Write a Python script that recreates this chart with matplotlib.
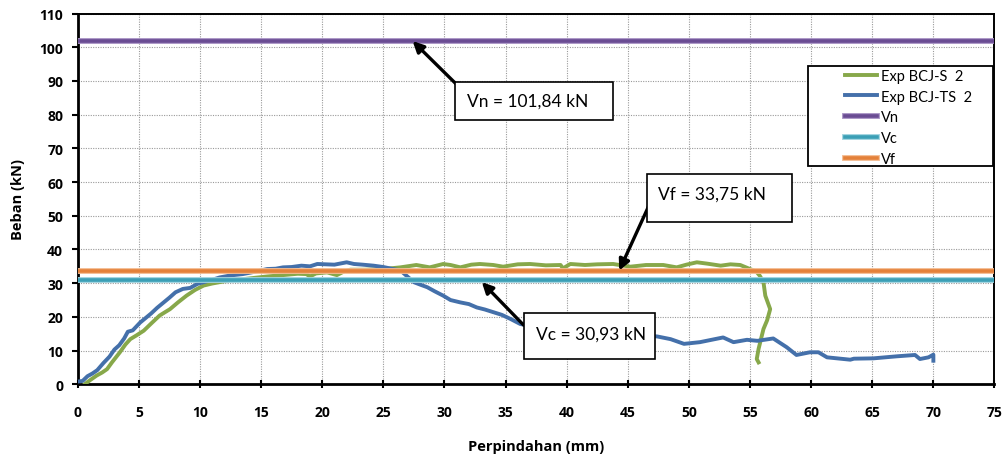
import matplotlib
matplotlib.use("Agg")
import matplotlib.pyplot as plt
import matplotlib.patheffects as pe
from matplotlib.patches import Rectangle

plt.rcParams['font.family'] = ['Lato', 'DejaVu Sans']
BOLD = ['Open Sans', 'DejaVu Sans']

# ---- data ----
x_ticks = [0, 5, 10, 15, 20, 25, 30, 35, 40, 45, 50, 55, 60, 65, 70, 75]
y_ticks = [0, 10, 20, 30, 40, 50, 60, 70, 80, 90, 100, 110]

bcjs_x = [0.6, 1.0, 1.55, 2.0, 2.4, 2.8, 3.45, 3.9, 4.3, 4.8, 5.4, 6.0, 6.7, 7.1, 7.55, 8.2, 8.9,
          9.6, 10.3, 11.0, 11.6, 12.5, 13.55, 14.5, 15.5, 16.8, 18.0, 18.7, 19.0, 19.5, 20.4, 21.2,
          21.8, 22.3, 23.5, 25.0, 26.4, 27.7, 28.8, 29.9, 30.5, 31.3, 32.2, 32.9, 34.0, 34.8, 36.0,
          37.0, 38.3, 39.5, 39.7, 40.3, 41.5, 42.5, 43.8, 45.2, 46.5, 47.9, 49.0, 49.8, 50.65, 51.5,
          52.6, 53.4, 54.2, 55.0, 55.5, 55.8, 56.1, 56.25, 56.65, 56.4, 56.1, 55.7, 55.55, 55.7]
bcjs_y = [0.1, 1.2, 2.6, 3.5, 4.5, 6.5, 9.5, 11.8, 13.4, 14.5, 15.9, 18.0, 20.4, 21.3, 22.3, 24.3, 26.3,
          28.0, 29.3, 29.9, 30.3, 30.9, 31.2, 31.6, 32.0, 32.4, 32.8, 32.7, 32.0, 32.9, 33.2, 32.4,
          33.5, 34.0, 34.0, 34.2, 34.7, 35.4, 34.7, 35.7, 35.4, 34.7, 35.5, 35.7, 35.4, 34.9, 35.6,
          35.7, 35.3, 35.4, 34.4, 35.7, 35.4, 35.6, 35.7, 34.9, 35.4, 35.4, 34.7, 35.5, 36.2, 35.8,
          35.2, 35.6, 35.4, 34.2, 33.5, 32.2, 30.3, 26.3, 22.3, 19.0, 16.4, 10.5, 7.5, 6.5]

bcjts_x = [0.0, 0.4, 0.8, 1.2, 1.6, 2.1, 2.6, 3.0, 3.4, 3.8, 4.1, 4.5, 5.1, 5.6, 6.0, 6.5, 7.0, 7.5,
           8.0, 8.6, 9.2, 9.8, 10.3, 11.0, 11.6, 12.5, 13.5, 14.5, 15.5, 16.2, 16.8, 17.5, 18.3,
           19.0, 19.6, 20.3, 21.0, 22.0, 22.6, 23.3, 24.2, 25.0, 25.8, 26.4, 26.9, 27.5, 28.0, 28.6,
           29.2, 29.9, 30.5, 31.3, 32.0, 32.65, 33.3, 34.0, 34.7, 35.4, 36.2, 37.5, 40.0, 43.0, 46.0,
           47.4, 48.5, 49.6, 50.9, 52.8, 53.65, 54.75, 55.6, 56.9, 58.0, 58.8, 59.9, 60.6, 61.3,
           63.2, 63.5, 65.1, 67.0, 68.5, 68.9, 69.6, 70.0, 70.0]
bcjts_y = [0.8, 1.0, 2.4, 3.2, 4.2, 6.3, 8.2, 10.3, 11.6, 13.6, 15.6, 16.0, 18.3, 19.8, 21.0, 22.7, 24.2,
           25.7, 27.3, 28.3, 28.6, 29.8, 30.3, 31.0, 31.7, 32.3, 32.7, 33.4, 34.2, 34.3, 34.7, 34.8,
           35.2, 35.0, 35.7, 35.6, 35.5, 36.2, 35.7, 35.5, 35.2, 34.8, 34.2, 33.8, 32.2, 30.3, 29.6,
           28.8, 27.6, 26.3, 25.0, 24.3, 23.8, 22.8, 22.2, 21.4, 20.6, 19.4, 17.9, 17.0, 15.8, 15.0,
           14.5, 14.2, 13.4, 12.0, 12.5, 13.9, 12.5, 13.2, 12.9, 13.6, 11.0, 8.7, 9.5, 9.5, 8.0,
           7.3, 7.6, 7.7, 8.3, 8.7, 7.5, 8.0, 8.8, 7.0]

Vn = 101.84
Vc = 30.93
Vf = 33.75

labels = ['Exp BCJ-S  2', 'Exp BCJ-TS  2', 'Vn', 'Vc', 'Vf']
ann_texts = ['Vn = 101,84 kN', 'Vf = 33,75 kN', 'Vc = 30,93 kN']

# ---- styles ----
c_green = '#87a84a'
c_blue = '#4470aa'
c_purple = '#6a4c93'
c_teal = '#3b9fb6'
c_orange = '#e4813a'

fig = plt.figure(figsize=(10.08, 4.6), dpi=100)
ax = fig.add_axes([0.0771, 0.1624, 0.9095, 0.8059])

def glow(c_light):
    return [pe.Stroke(linewidth=4.2, foreground=c_light), pe.Normal()]

l1, = ax.plot(bcjs_x, bcjs_y, color=c_green, lw=2.8, zorder=3, solid_joinstyle='round')
l2, = ax.plot(bcjts_x, bcjts_y, color=c_blue, lw=2.8, zorder=3, solid_joinstyle='round')
l3 = ax.axhline(Vn, color=c_purple, lw=2.6, zorder=4, path_effects=glow('#a792c4'))
l4 = ax.axhline(Vc, color=c_teal, lw=2.6, zorder=4, path_effects=glow('#9fd3df'))
l5 = ax.axhline(Vf, color=c_orange, lw=2.6, zorder=4, path_effects=glow('#f4bb90'))

ax.set_xlim(0, 75)
ax.set_ylim(0, 110)
ax.set_xticks(x_ticks)
ax.set_yticks(y_ticks)
ax.grid(True, color='#9a9a9a', linestyle=(0, (1, 1.2)), linewidth=0.8, zorder=0)
ax.set_axisbelow(True)

for s in ['left', 'bottom']:
    ax.spines[s].set_linewidth(2.0)
for s in ['top', 'right']:
    ax.spines[s].set_linewidth(1.4)

ax.tick_params(axis='y', direction='out', length=4.5, width=1.5, pad=6)
ax.tick_params(axis='x', direction='inout', length=6, width=1.5, pad=12)
ax.set_xticklabels([str(v) for v in x_ticks], family=BOLD, fontweight='bold', fontsize=10)
ax.set_yticklabels([str(v) for v in y_ticks], family=BOLD, fontweight='bold', fontsize=10)

ax.set_xlabel('Perpindahan (mm)', family=BOLD, fontsize=10.5, fontweight='bold')
ax.set_ylabel('Beban (kN)', family=BOLD, fontsize=10.5, fontweight='bold')
ax.xaxis.set_label_coords(0.5, -0.1664)
ax.yaxis.set_label_coords(-0.0654, 0.5)
ax.xaxis.label.set_va('center')
ax.yaxis.label.set_va('center')

# legend
rect = Rectangle((0.7966, 0.5889), 0.2014, 0.2698, transform=ax.transAxes,
                 facecolor='white', edgecolor='black', lw=1.3, zorder=19)
ax.add_patch(rect)
leg = ax.legend([l1, l2, l3, l4, l5], labels, loc='upper left',
                bbox_to_anchor=(0.8369, 0.851), frameon=False, borderpad=0,
                borderaxespad=0, handlelength=2.2, handletextpad=0.25,
                labelspacing=0.46, fontsize=10.5)
leg.set_zorder(20)

# annotations
boxes = [(30.88, 78.5, 43.83 - 30.88, 89.6 - 78.5),
         (46.56, 48.25, 58.43 - 46.56, 62.4 - 48.25),
         (36.47, 7.5, 47.24 - 36.47, 21.07 - 7.5)]
text_pos = [(31.86, 84.1), (47.49, 56.5), (37.5, 14.9)]
arrows = [((27.4, Vn), (30.96, 89.1)),
          ((44.3, Vf), (46.7, 52.8)),
          ((33.06, Vc - 0.6), (36.47, 17.6))]

for (bx, by, bw, bh), (tx, ty), txt, (tip, tail) in zip(boxes, text_pos, ann_texts, arrows):
    ax.annotate('', xy=tip, xytext=tail,
                arrowprops=dict(arrowstyle='-|>', color='black', lw=2.4,
                                mutation_scale=16, shrinkA=0, shrinkB=0),
                zorder=10)
    ax.add_patch(Rectangle((bx, by), bw, bh, facecolor='white', edgecolor='black',
                           lw=1.2, zorder=11))
    ax.text(tx, ty, txt, fontsize=12.5, ha='left', va='center', zorder=12)

fig.savefig('out.png', dpi=100, facecolor='white')
